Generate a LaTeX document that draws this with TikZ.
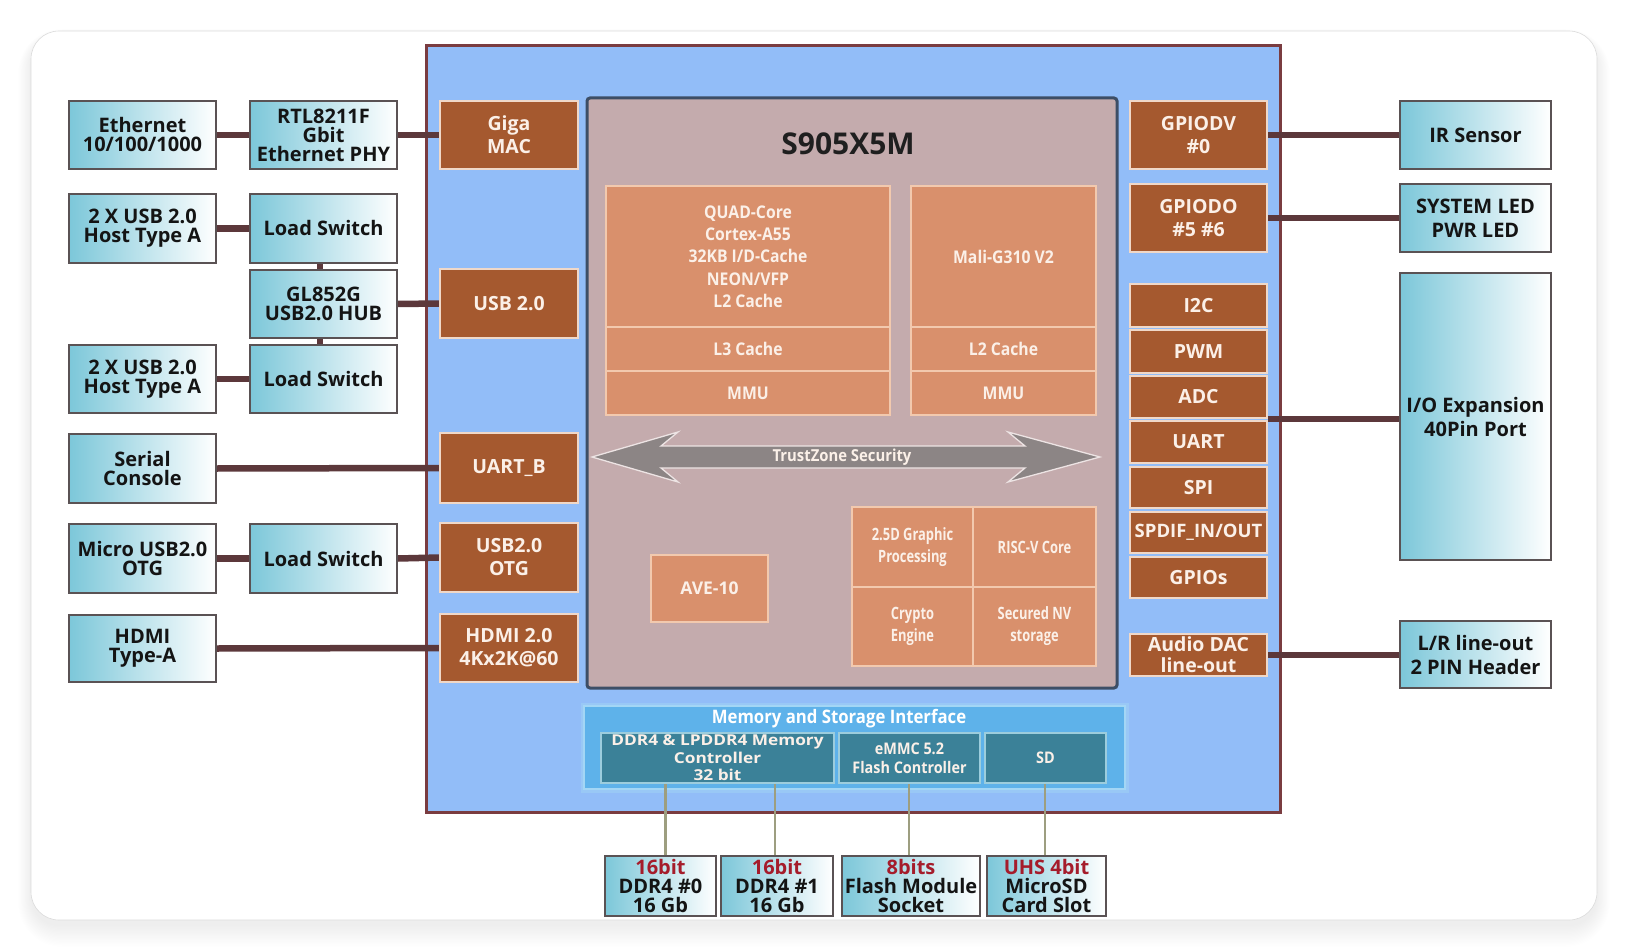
\documentclass[tikz,border=0pt]{standalone}
\usepackage{fontspec}
\setmainfont{Open Sans}
\newfontfamily\cnd{Open Sans}[FakeStretch=0.9]
\newfontfamily\cndx{Open Sans}[FakeStretch=0.76]
\newfontfamily\wde{Open Sans}[FakeStretch=1.15]
\usetikzlibrary{calc}
\pgfdeclarelayer{back}
\pgfdeclarelayer{mid}
\pgfsetlayers{back,mid,main}
\definecolor{chipblue}{HTML}{92BDF8}
\definecolor{chipedge}{HTML}{7A3C40}
\definecolor{socfill}{HTML}{C4ABAD}
\definecolor{socedge}{HTML}{3D4E66}
\definecolor{orfill}{HTML}{D9906C}
\definecolor{oredge}{HTML}{F2C9AE}
\definecolor{brfill}{HTML}{A5592F}
\definecolor{bredge}{HTML}{F0D8C8}
\definecolor{cyanL}{HTML}{7CC7D9}
\definecolor{cyanedge}{HTML}{5A5254}
\definecolor{connc}{HTML}{5C383B}
\definecolor{memfill}{HTML}{5EB2EA}
\definecolor{memedge}{HTML}{A3D6F5}
\definecolor{tealf}{HTML}{3B8198}
\definecolor{tealedge}{HTML}{9CCDDD}
\definecolor{olivec}{HTML}{9D9E80}
\definecolor{redtxt}{HTML}{A51C2B}
\definecolor{arrowg}{HTML}{8C8585}
\definecolor{arrowe}{HTML}{EDE4E4}
\definecolor{lighttxt}{HTML}{FBF0E8}
\tikzset{
  cyanbox/.style={draw=cyanedge, line width=1.8pt, left color=cyanL, right color=white,
    inner sep=0pt, align=center, text=black!92, font=\bfseries\fontsize{20pt}{19pt}\selectfont},
  brownbox/.style={fill=brfill, draw=bredge, line width=1.5pt, inner sep=0pt, align=center,
    text=lighttxt, font=\bfseries\fontsize{19.5pt}{23pt}\selectfont},
  orbox/.style={fill=orfill, draw=oredge, line width=1.3pt, inner sep=0pt, align=center,
    text=lighttxt, font=\cnd\bfseries\fontsize{17.5pt}{22.3pt}\selectfont},
  gridbox/.style={orbox, font=\cndx\bfseries\fontsize{17pt}{22pt}\selectfont},
  tealbox/.style={fill=tealf, draw=tealedge, line width=1.2pt, inner sep=0pt, align=center,
    text=lighttxt, font=\cnd\bfseries\fontsize{16pt}{19pt}\selectfont},
  botbox/.style={cyanbox, font=\bfseries\fontsize{20pt}{19pt}\selectfont},
  conn/.style={draw=connc, line width=6.5pt},
  thinconn/.style={draw=olivec, line width=2.6pt}
}
\newcommand\bx[7]{\node[#2, minimum width={(#5-#3)*1pt}, minimum height={(#6-#4)*1pt}] (#1) at ({(#3+#5)/2},{(#4+#6)/2}) {#7};}
\begin{document}
\begin{tikzpicture}[x=1pt,y=-1pt]
\useasboundingbox (0,0) rectangle (1628,952);
\begin{pgfonlayer}{back}
\fill[white] (0,0) rectangle (1628,952);
% card shadow
\foreach \i in {0,...,16}{
  \fill[black, opacity=0.0055, rounded corners={28+\i}] ({31-\i*0.8},{31-\i*0.5+6}) rectangle ({1597+\i*0.8},{920+\i*1.3+6});
}
\node[draw=black!14, line width=0.6pt, fill=white, rounded corners=28pt, minimum width=1566pt, minimum height=889pt, inner sep=0pt] (card) at (814,475.5) {};
% chip
\bx{chip}{draw=chipedge, line width=3pt, fill=chipblue, inner sep=0pt}{426}{46}{1280}{812}{}
\end{pgfonlayer}
\bx{soc}{draw=socedge, line width=3pt, fill=socfill, rounded corners=3pt, inner sep=0pt}{587}{98}{1117}{688}{}
\node[font=\bfseries\fontsize{30pt}{32pt}\selectfont, text=black!88] (title) at (848,144) {S905X5M};
% CPU / GPU
\bx{cpu}{orbox}{606}{186}{890}{327}{QUAD-Core\\Cortex-A55\\32KB I/D-Cache\\NEON/VFP\\L2 Cache}
\bx{lthree}{orbox}{606}{327}{890}{371}{L3 Cache}
\bx{mmua}{orbox}{606}{371}{890}{415}{MMU}
\bx{gpu}{orbox}{911}{186}{1096}{327}{Mali-G310 V2}
\bx{ltwo}{orbox}{911}{327}{1096}{371}{L2 Cache}
\bx{mmub}{orbox}{911}{371}{1096}{415}{MMU}
% TrustZone arrow
\draw[fill=arrowg, draw=arrowe, line width=1.3pt, line join=miter]
  (592,457) -- (678,432) -- (661,446) -- (1025,446) -- (1008,432) -- (1100,457)
  -- (1008,482) -- (1025,468) -- (661,468) -- (678,482) -- cycle;
\node[text=lighttxt, font=\cnd\bfseries\fontsize{16.5pt}{18pt}\selectfont] (tz) at (842,457) {TrustZone Security};
\bx{ave}{orbox, font=\bfseries\fontsize{17.5pt}{20pt}\selectfont}{651}{555}{768}{622}{AVE-10}
\bx{gfx}{gridbox}{852}{507}{973}{587}{2.5D Graphic\\Processing}
\bx{riscv}{gridbox}{973}{507}{1096}{587}{RISC-V Core}
\bx{crypto}{gridbox}{852}{587}{973}{666}{Crypto\\Engine}
\bx{snv}{gridbox}{973}{587}{1096}{666}{Secured NV\\storage}
% memory interface
\draw[draw=memedge, line width=7pt, opacity=0.45] (584,706) rectangle (1125,789);
\bx{mem}{fill=memfill, draw=memedge, line width=2.5pt, inner sep=0pt}{584}{706}{1125}{789}{}
\node[text=white, font=\cnd\bfseries\fontsize{18.6pt}{20pt}\selectfont] (memtitle) at (839,719) {Memory and Storage Interface};
% bottom memory devices
\bx{ddrz}{botbox}{605}{856}{716}{916}{{\color{redtxt}16bit}\\DDR4 \#0\\16 Gb}
\bx{ddro}{botbox}{721}{856}{833}{916}{{\color{redtxt}16bit}\\DDR4 \#1\\16 Gb}
\bx{flash}{botbox}{842}{856}{980}{916}{{\color{redtxt}8bits}\\Flash Module\\Socket}
\bx{msd}{botbox}{987}{856}{1106}{916}{{\color{redtxt}UHS 4bit}\\MicroSD\\Card Slot}
\coordinate (memlow) at (0,783);
\draw[thinconn] ([xshift=5pt]ddrz.north) -- ([xshift=5pt]ddrz.north |- memlow);
\draw[thinconn] ([xshift=-2pt]ddro.north) -- ([xshift=-2pt]ddro.north |- memlow);
\draw[thinconn] ([xshift=-2pt]flash.north) -- ([xshift=-2pt]flash.north |- memlow);
\draw[thinconn] ([xshift=-1.5pt]msd.north) -- ([xshift=-1.5pt]msd.north |- memlow);
\bx{ddrc}{tealbox, font=\wde\bfseries\fontsize{15pt}{17.5pt}\selectfont}{601}{733}{834}{783}{DDR4 \& LPDDR4 Memory\\Controller\\32 bit}
\bx{emmc}{tealbox}{839}{733}{980}{783}{eMMC 5.2\\Flash Controller}
\bx{sdc}{tealbox}{985}{733}{1106}{783}{SD}
% left side peripherals
\bx{eth}{cyanbox}{69}{101}{216}{169}{Ethernet\\10/100/1000}
\bx{usbaa}{cyanbox}{69}{194}{216}{263}{2 X USB 2.0\\Host Type A}
\bx{usbab}{cyanbox}{69}{345}{216}{413}{2 X USB 2.0\\Host Type A}
\bx{serial}{cyanbox}{69}{434}{216}{503}{Serial\\Console}
\bx{musb}{cyanbox}{69}{524}{216}{593}{Micro USB2.0\\OTG}
\bx{hdmia}{cyanbox}{69}{615}{216}{682}{HDMI\\Type-A}
\bx{phy}{cyanbox}{250}{101}{397}{169}{RTL8211F\\Gbit\\Ethernet PHY}
\bx{lsa}{cyanbox}{250}{194}{397}{263}{Load Switch}
\bx{hub}{cyanbox}{250}{270}{397}{338}{GL852G\\USB2.0 HUB}
\bx{lsb}{cyanbox}{250}{345}{397}{413}{Load Switch}
\bx{lsc}{cyanbox}{250}{524}{397}{593}{Load Switch}
\bx{gmac}{brownbox}{440}{101}{578}{169}{Giga\\MAC}
\bx{usbh}{brownbox}{440}{269}{578}{338}{USB 2.0}
\bx{uartb}{brownbox}{440}{433}{578}{503}{UART\_B}
\bx{otg}{brownbox}{440}{523}{578}{592}{USB2.0\\OTG}
\bx{hdmi}{brownbox}{440}{614}{578}{682}{HDMI 2.0\\4Kx2K@60}
% right side
\bx{gpiodv}{brownbox}{1130}{101}{1267}{169}{GPIODV\\\#0}
\bx{gpiodo}{brownbox}{1130}{184}{1267}{252}{GPIODO\\\#5 \#6}
\bx{itwoc}{brownbox}{1130}{284}{1267}{327}{I2C}
\bx{pwm}{brownbox}{1130}{330}{1267}{373}{PWM}
\bx{adc}{brownbox}{1130}{376}{1267}{418}{ADC}
\bx{uart}{brownbox}{1130}{421}{1267}{463}{UART}
\bx{spi}{brownbox}{1130}{467}{1267}{508}{SPI}
\bx{spdif}{brownbox, font=\bfseries\fontsize{18.5pt}{20pt}\selectfont}{1130}{512}{1267}{553}{SPDIF\_IN/OUT}
\bx{gpios}{brownbox}{1130}{557}{1267}{598}{GPIOs}
\bx{dac}{brownbox, font=\bfseries\fontsize{19.5pt}{21pt}\selectfont}{1130}{634}{1267}{676}{Audio DAC\\line-out}
\bx{ir}{cyanbox}{1400}{101}{1551}{169}{IR Sensor}
\bx{led}{cyanbox, font=\bfseries\fontsize{20pt}{24pt}\selectfont}{1400}{184}{1551}{252}{SYSTEM LED\\PWR LED}
\bx{io}{cyanbox, font=\bfseries\fontsize{20pt}{24pt}\selectfont}{1400}{273}{1551}{560}{I/O Expansion\\40Pin Port}
\bx{lr}{cyanbox, font=\bfseries\fontsize{20pt}{24pt}\selectfont}{1400}{621}{1551}{688}{L/R line-out\\2 PIN Header}
% thick connectors, under the boxes, over the chip edge
\begin{pgfonlayer}{mid}
\draw[conn] (eth.east) -- (phy.west);
\draw[conn] (phy.east) -- (gmac.west);
\draw[conn] (usbaa.east) -- (lsa.west);
\draw[conn] ([xshift=-3.5pt]lsa.south) -- ([xshift=-3.5pt]hub.north);
\draw[conn] ([xshift=-3.5pt]hub.south) -- ([xshift=-3.5pt]lsb.north);
\draw[conn] (hub.east) -- (usbh.west);
\draw[conn] (usbab.east) -- (lsb.west);
\draw[conn] (serial.east) -- (uartb.west);
\draw[conn] (musb.east) -- (lsc.west);
\draw[conn] (lsc.east) -- (otg.west);
\draw[conn] (hdmia.east) -- (hdmi.west);
\draw[conn] (gpiodv.east) -- (ir.west);
\draw[conn] (gpiodo.east) -- (led.west);
\draw[conn] ([yshift=1.5pt]uart.north east) -- ([yshift=1.5pt]uart.north east -| io.west);
\draw[conn] (dac.east) -- (dac.east -| lr.west);
\end{pgfonlayer}
\end{tikzpicture}
\end{document}
